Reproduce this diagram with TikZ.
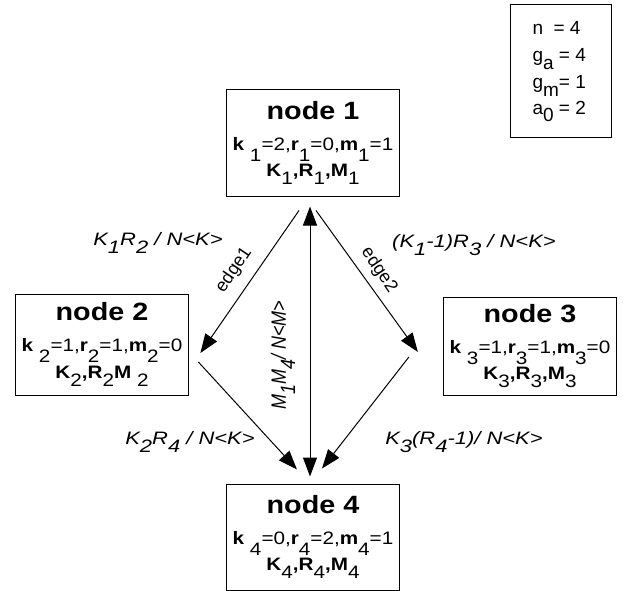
\documentclass[tikz,border=0pt]{standalone}
\usepackage{fontspec}
\setmainfont{Liberation Sans}
\usetikzlibrary{arrows.meta,calc}

\newcommand{\dn}[2][-0.45em]{\raisebox{#1}{#2}}
\newcommand{\ttl}[1]{{\fontsize{25}{28}\selectfont\bfseries #1}}

\tikzset{
    vertex/.style={draw, line width=1pt, inner sep=0pt, xscale=1.15,
        minimum width=150pt, minimum height=104pt, font=\fontsize{18}{22}\selectfont},
    lbl/.style={inner sep=0pt, xscale=1.22, font=\fontsize{18}{20}\selectfont\itshape},
    parline/.style={anchor=base west, inner sep=0pt, font=\fontsize{19}{23}\selectfont},
}

\begin{document}
\begin{tikzpicture}[x=1pt,y=-1pt,line width=1pt,>={Triangle[length=19pt,width=14pt]}]
            \useasboundingbox (0,0) rectangle (626,591);

            \node[vertex,minimum height=106pt] (n1) at (313,143) {\begin{tabular}{@{}c@{}}\ttl{node 1}\\[9pt]
                \textbf{k} \dn[-0.6em]{1}=2,\textbf{r}\dn[-0.6em]{1}=0,\textbf{m}\dn[-0.6em]{1}=1\\
                \textbf{K}\dn{1}\textbf{,R}\dn{1}\textbf{,M}\dn{1}\end{tabular}};
            \node[vertex,minimum width=151pt,minimum height=101pt] (n2) at (102,344.5) {\begin{tabular}{@{}c@{}}\ttl{node 2}\\[9pt]
                \textbf{k} \dn[-0.6em]{2}=1,\textbf{r}\dn[-0.6em]{2}=1,\textbf{m}\dn[-0.6em]{2}=0\\
                \textbf{K}\dn{2}\textbf{,R}\dn{2}\textbf{M} \dn{2}\end{tabular}};
            \node[vertex,minimum width=150.5pt,minimum height=98pt] (n3) at (530,346) {\begin{tabular}{@{}c@{}}\ttl{node 3}\\[9pt]
                \textbf{k} \dn[-0.6em]{3}=1,\textbf{r}\dn[-0.6em]{3}=1,\textbf{m}\dn[-0.6em]{3}=0\\
                \textbf{K}\dn{3}\textbf{,R}\dn{3}\textbf{,M}\dn{3}\end{tabular}};
            \node[vertex,minimum height=106pt] (n4) at (313,537) {\begin{tabular}{@{}c@{}}\ttl{node 4}\\[9pt]
                \textbf{k} \dn[-0.6em]{4}=0,\textbf{r}\dn[-0.6em]{4}=2,\textbf{m}\dn[-0.6em]{4}=1\\
                \textbf{K}\dn{4}\textbf{,R}\dn{4}\textbf{,M}\dn{4}\end{tabular}};

            % parameters
            \node[draw,line width=1pt,minimum width=101pt,minimum height=132pt] (par) at (560.5,71) {};
            \node[parline] (p1) at (532,35) {n~ = 4};
            \node[parline] (p2) at (532,62) {g\dn[-0.4em]{a} = 4};
            \node[parline] (p3) at (532,89) {g\dn[-0.4em]{m}= 1};
            \node[parline] (p4) at (532,114) {a\dn[-0.4em]{0} = 2};

            \draw[->] ($(n1.south)+(-14,14)$) -- ($(n2.east)+(11,8.5)$);
            \draw[->] ($(n1.south)+(3,14)$) -- ($(n3.west)+(-25,6)$);
            \draw[<->] ($(n1.south)+(-3,10)$) -- ($(n4.north)+(-3,-7)$);
            \draw[->] ($(n2.east)+(9,17.5)$) -- ($(n4.north)+(-16,-14)$);
            \draw[->] ($(n3.west)+(-34,11)$) -- ($(n4.north)+(9,-15)$);

            \node[lbl] (l12) at (158,243) {K\dn{1}R\dn{2} / N<K>};
            \node[lbl] (l13) at (474,245) {(K\dn{1}-1)R\dn{3} / N<K>};
            \node[lbl] (l24) at (190,442) {K\dn{2}R\dn{4} / N<K>};
            \node[lbl] (l34) at (464,442) {K\dn{3}(R\dn{4}-1)/ N<K>};
            \node[inner sep=0pt,font=\fontsize{18}{20}\selectfont\itshape,xscale=1.15,rotate=90] (l14) at (283,355) {M\dn{1}M\dn{4}/ N<M>};
            \node[inner sep=0pt,font=\fontsize{18}{20}\selectfont,rotate=56] (e1) at (234,270) {edge1};
            \node[inner sep=0pt,font=\fontsize{18}{20}\selectfont,rotate=-56] (e2) at (379,270) {edge2};
\end{tikzpicture}
\end{document}
